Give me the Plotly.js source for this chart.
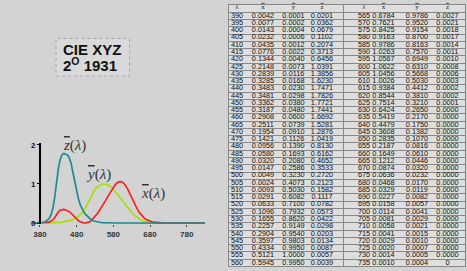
<!DOCTYPE html>
<html><head><meta charset="utf-8">
<script src="https://cdn.plot.ly/plotly-3.0.1.min.js"></script>
<style>html,body{margin:0;padding:0;background:#d3d3d3;} #chart{width:467px;height:271px;}</style>
</head><body><div id="chart"></div>
<script>
// ---- data (CIE 1931 2° colour matching functions, as shown in the table) ----
const lambdaLeft = [390,395,400,405,410,415,420,425,430,435,440,445,450,455,460,465,470,475,480,485,490,495,500,505,510,515,520,525,530,535,540,545,550,555,560];
const xLeft = [0.0042,0.0077,0.0143,0.0232,0.0435,0.0776,0.1344,0.2148,0.2839,0.3285,0.3483,0.3481,0.3362,0.3187,0.2908,0.2511,0.1954,0.1421,0.0956,0.0580,0.0320,0.0147,0.0049,0.0024,0.0093,0.0291,0.0633,0.1096,0.1655,0.2257,0.2904,0.3597,0.4334,0.5121,0.5945];
const yLeft = [0.0001,0.0002,0.0004,0.0006,0.0012,0.0022,0.0040,0.0073,0.0116,0.0168,0.0230,0.0298,0.0380,0.0480,0.0600,0.0739,0.0910,0.1126,0.1390,0.1693,0.2080,0.2586,0.3230,0.4073,0.5030,0.6082,0.7100,0.7932,0.8620,0.9149,0.9540,0.9803,0.9950,1.0000,0.9950];
const zLeft = [0.0201,0.0362,0.0679,0.1102,0.2074,0.3713,0.6456,1.0391,1.3856,1.6230,1.7471,1.7826,1.7721,1.7441,1.6692,1.5281,1.2876,1.0419,0.8130,0.6162,0.4652,0.3533,0.2720,0.2123,0.1582,0.1117,0.0782,0.0573,0.0422,0.0298,0.0203,0.0134,0.0087,0.0057,0.0039];

const lambdaRight = [565,570,575,580,585,590,595,600,605,610,615,620,625,630,635,640,645,650,655,660,665,670,675,680,685,690,695,700,705,710,715,720,725,730,735];
const xRight = [0.6784,0.7621,0.8425,0.9163,0.9786,1.0263,1.0567,1.0622,1.0456,1.0026,0.9384,0.8544,0.7514,0.6424,0.5419,0.4479,0.3608,0.2835,0.2187,0.1649,0.1212,0.0874,0.0636,0.0468,0.0329,0.0227,0.0158,0.0114,0.0081,0.0058,0.0041,0.0029,0.0020,0.0014,0.0010];
const yRight = [0.9786,0.9520,0.9154,0.8700,0.8163,0.7570,0.6949,0.6310,0.5668,0.5030,0.4412,0.3810,0.3210,0.2650,0.2170,0.1750,0.1382,0.1070,0.0816,0.0610,0.0446,0.0320,0.0232,0.0170,0.0119,0.0082,0.0057,0.0041,0.0029,0.0021,0.0015,0.0010,0.0007,0.0005,0.0004];
const zRight = [0.0027,0.0021,0.0018,0.0017,0.0014,0.0011,0.0010,0.0008,0.0006,0.0003,0.0002,0.0002,0.0001,0,0,0,0,0,0,0,0,0,0,0,0,0,0,0,0,0,0,0,0,0,0];

// curve tails outside the table range (read as ~zero from the plot)
const lambdaLow = [360,365,370,375,380,385];
const xLow = [0.0001,0.0002,0.0004,0.0007,0.0014,0.0022];
const yLow = [0,0,0,0,0,0.0001];
const zLow = [0.0006,0.0011,0.0019,0.0035,0.0065,0.0105];
const lambdaHigh = [740,750,760,770,780,800,830];
const xHigh = [0.0007,0.0003,0.0002,0.0001,0,0,0];
const yHigh = [0.0002,0.0001,0.0001,0,0,0,0];
const zHigh = [0,0,0,0,0,0,0];

const xTicks = [380,480,580,680,780];
const yTicks = [0,1,2];
const headerLabels = ['λ','<span style="text-decoration:overline">x</span>','<span style="text-decoration:overline">y</span>','<span style="text-decoration:overline">z</span>'];

// ---- layout constants ----
const W = 467, H = 271;
const colX = [237, 263, 293.5, 322, 364, 383.5, 417, 447.5];
const px = v => v / W;
const py = v => (H - v) / H;

const lam = lambdaLow.concat(lambdaLeft, lambdaRight, lambdaHigh);
const xs = xLow.concat(xLeft, xRight, xHigh);
const ys = yLow.concat(yLeft, yRight, yHigh);
const zs = zLow.concat(zLeft, zRight, zHigh);

const traces = [
  {x: lam, y: ys, mode:'lines', line:{color:'#a6e000', width:1.6}, hoverinfo:'skip'},
  {x: lam, y: xs, mode:'lines', line:{color:'#ff1a1a', width:1.6}, hoverinfo:'skip'},
  {x: lam, y: zs, mode:'lines', line:{color:'#1f8a96', width:1.7}, hoverinfo:'skip'}
];

const fmt = (v, i, n) => (i === n - 1 && v === 0) ? '0' : v.toFixed(4);
const tableFont = {family:'Liberation Sans, Arial, sans-serif', size:7.3, color:'#111'};
const halves = [[lambdaLeft, xLeft, yLeft, zLeft], [lambdaRight, xRight, yRight, zRight]];
halves.forEach((cols, h) => {
  cols.forEach((arr, c) => {
    const n = arr.length;
    traces.push({
      type:'scatter', mode:'text', xaxis:'x2', yaxis:'y2',
      x: arr.map(() => colX[h*4 + c]),
      y: arr.map((_, i) => i + 1),
      text: arr.map((v, i) => c === 0 ? String(v) : fmt(v, i, n)),
      textposition:'middle center', textfont: tableFont,
      hoverinfo:'skip', cliponaxis:false
    });
  });
});
traces.push({
  type:'scatter', mode:'text', xaxis:'x2', yaxis:'y2',
  x: colX, y: colX.map(() => -0.2),
  text: headerLabels.concat(headerLabels),
  textposition:'middle center',
  textfont:{family:'Liberation Serif, serif', size:7, color:'#222'},
  hoverinfo:'skip', cliponaxis:false
});

const labelFont = {family:'Liberation Serif, Times New Roman, serif', size:15, color:'#333'};
const titleFont = {family:'Liberation Sans, Arial, sans-serif', size:15, color:'#111', weight:'bold'};
const ov = s => '<i><span style="text-decoration:overline">' + s + '</span></i>(<i>λ</i>)';

const layout = {
  width: W, height: H, margin:{l:0,r:0,t:0,b:0},
  paper_bgcolor:'#d3d3d3', plot_bgcolor:'rgba(0,0,0,0)',
  showlegend:false,
  xaxis:{domain:[px(30.8), px(208.7)], range:[355, 840], anchor:'y',
    tickvals:xTicks, ticks:'outside', ticklen:2, tickcolor:'#444',
    tickfont:{family:'Liberation Sans, Arial, sans-serif', size:8, color:'#333', weight:'bold'},
    showgrid:false, zeroline:false, showline:false},
  yaxis:{domain:[py(224.2), py(143)], range:[-0.03, 2.05], anchor:'free', position:px(40),
    tickvals:yTicks, ticks:'outside', ticklen:2, tickcolor:'#000',
    tickfont:{family:'Liberation Sans, Arial, sans-serif', size:8, color:'#111', weight:'bold'},
    showgrid:false, zeroline:false, showline:true, linecolor:'#000', linewidth:2},
  xaxis2:{domain:[px(229), px(465)], range:[229, 465], anchor:'y2',
    showticklabels:false, ticks:'', tickvals:[343], showgrid:true, gridcolor:'#888', gridwidth:1,
    zeroline:false, showline:true, mirror:true, linecolor:'#888', linewidth:1},
  yaxis2:{domain:[py(266.4), py(5)], range:[35.5, -0.5], anchor:'x2',
    showticklabels:false, ticks:'',
    tickvals: Array.from({length:35}, (_, k) => k + 0.5),
    showgrid:true, gridcolor:'#888', gridwidth:1,
    zeroline:false, showline:true, mirror:true, linecolor:'#888', linewidth:1},
  shapes:[
    {type:'rect', xref:'x2 domain', yref:'y2 domain', x0:0, x1:1, y0:0, y1:1,
     fillcolor:'#dedede', line:{width:0}, layer:'below'},
    {type:'rect', xref:'paper', yref:'paper', x0:px(56), x1:px(129.5), y0:py(76), y1:py(38.5),
     fillcolor:'#d9d9d9', line:{color:'#a8a8a8', width:1, dash:'dot'}, layer:'below'}
  ],
  annotations:[
    {xref:'paper', yref:'paper', x:px(61), y:py(49), xanchor:'left', yanchor:'middle',
     text:'CIE XYZ', showarrow:false, font:titleFont},
    {xref:'paper', yref:'paper', x:px(61), y:py(65), xanchor:'left', yanchor:'middle',
     text:'2<sup>O</sup> 1931', showarrow:false, font:titleFont},
    {xref:'paper', yref:'paper', x:px(61), y:py(145), xanchor:'left', yanchor:'middle',
     text:ov('z'), showarrow:false, font:labelFont},
    {xref:'paper', yref:'paper', x:px(84), y:py(174), xanchor:'left', yanchor:'middle',
     text:ov('y'), showarrow:false, font:labelFont},
    {xref:'paper', yref:'paper', x:px(139), y:py(193), xanchor:'left', yanchor:'middle',
     text:ov('x'), showarrow:false, font:labelFont}
  ]
};

Plotly.newPlot('chart', traces, layout, {displayModeBar:false, staticPlot:true});
</script>
</body></html>
